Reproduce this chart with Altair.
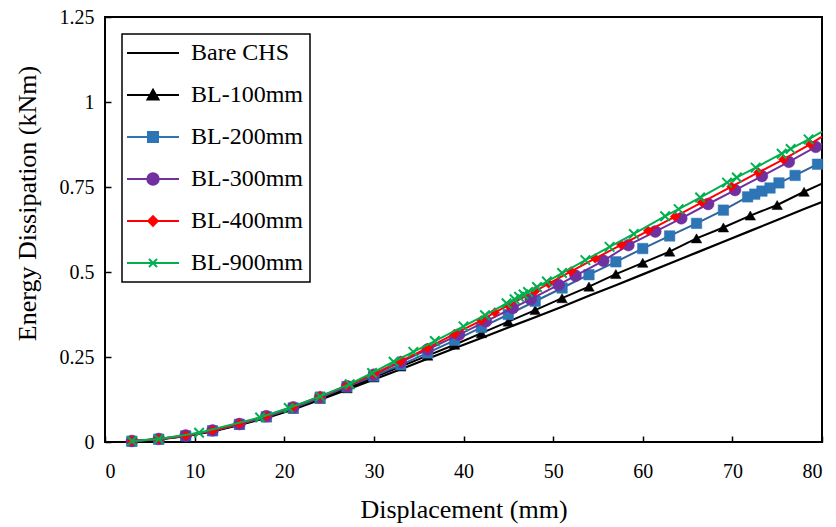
import altair as alt
import pandas as pd

# ---------------- data ----------------
series_names = ["Bare CHS", "BL-100mm", "BL-200mm", "BL-300mm", "BL-400mm", "BL-900mm"]

bare_x = [3, 6, 9, 12, 15, 18, 21, 24, 27, 30, 33, 36, 39, 42, 45, 48, 51, 54, 57, 60, 63, 66, 69, 72, 75, 78]
bare_y = [0.002, 0.008, 0.017, 0.031, 0.050, 0.071, 0.096, 0.124, 0.154, 0.184, 0.214, 0.245, 0.276,
          0.306, 0.337, 0.367, 0.398, 0.430, 0.461, 0.493, 0.525, 0.557, 0.589, 0.621, 0.653, 0.685]

bl100_x = [3, 6, 9, 12, 15, 18, 21, 24, 27, 30, 33, 36, 39, 42, 45, 48, 51, 54, 57, 60, 63, 66, 69, 72, 75, 78]
bl100_y = [0.002, 0.008, 0.018, 0.032, 0.051, 0.073, 0.098, 0.127, 0.158, 0.190, 0.222, 0.254, 0.286,
           0.320, 0.354, 0.388, 0.423, 0.457, 0.494, 0.527, 0.560, 0.599, 0.631, 0.666, 0.697, 0.736]

bl200_x = [3, 6, 9, 12, 15, 18, 21, 24, 27, 30, 33, 36, 39, 42, 45, 48, 51, 54, 57, 60, 63, 66, 69,
           71.7, 72.5, 73.3, 74.2, 75.2, 77, 79.5]
bl200_y = [0.002, 0.008, 0.018, 0.033, 0.052, 0.074, 0.100, 0.130, 0.163, 0.194, 0.227, 0.262, 0.299,
           0.337, 0.375, 0.414, 0.453, 0.492, 0.530, 0.569, 0.606, 0.643, 0.682,
           0.721, 0.729, 0.738, 0.747, 0.762, 0.784, 0.817]

bl300_x = [3, 6, 9, 12, 15, 18, 21, 24, 27, 30, 33, 36, 39.5, 42.5, 45.5, 47.5, 50.6, 52.5, 55.6,
           58.4, 61.4, 64.3, 67.3, 70.3, 73.3, 76.3, 79.3]
bl300_y = [0.003, 0.009, 0.019, 0.034, 0.053, 0.076, 0.102, 0.132, 0.164, 0.198, 0.235, 0.272, 0.316,
           0.355, 0.394, 0.420, 0.462, 0.489, 0.533, 0.579, 0.619, 0.658, 0.700, 0.741, 0.782, 0.824, 0.868]

bl400_x = [3, 6, 9, 12, 15, 18, 21, 24, 27, 30, 33, 36, 39, 42, 43.5, 45, 48, 49.5, 52, 54.7, 57.6,
           60.6, 63.6, 66.6, 69.9, 72.9, 75.7, 78.7]
bl400_y = [0.003, 0.009, 0.019, 0.034, 0.054, 0.077, 0.104, 0.134, 0.166, 0.200, 0.238, 0.277, 0.318,
           0.358, 0.381, 0.402, 0.444, 0.466, 0.502, 0.540, 0.580, 0.621, 0.663, 0.705, 0.751, 0.793,
           0.831, 0.876]

bl900_x = [3, 6, 10.5, 17.3, 20.5, 24, 27.3, 29.8, 32.2, 34.4, 36.8, 40, 42.4, 44.8, 45.7, 46.2, 46.7,
           47.2, 48.2, 49.3, 51, 53.6, 56.3, 59, 62.5, 64, 66.4, 69.4, 70.5, 72.6, 75.5, 76.5, 78.5]
bl900_y = [0.003, 0.009, 0.027, 0.072, 0.100, 0.134, 0.170, 0.203, 0.236, 0.265, 0.297, 0.340, 0.373,
           0.408, 0.420, 0.427, 0.434, 0.441, 0.456, 0.472, 0.497, 0.535, 0.574, 0.612, 0.664, 0.685,
           0.719, 0.763, 0.778, 0.807, 0.848, 0.862, 0.890]

# line end points at the right border (x = 80), no marker there
line_end_x = 80
line_end_y = [0.706, 0.760, 0.823, 0.877, 0.898, 0.913]

x_ticks = [0, 10, 20, 30, 40, 50, 60, 70, 80]
y_ticks = [0, 0.25, 0.5, 0.75, 1, 1.25]

# ---------------- styles ----------------
line_colors = ["#000000", "#000000", "#2F6399", "#7030A0", "#FF0000", "#00B050"]
marker_colors = ["#000000", "#000000", "#2E75B6", "#7030A0", "#FF0000", "#00B050"]
marker_shapes = [None, "triangle-up", "square", "circle", "diamond", "M-1,-1L1,1M-1,1L1,-1"]
marker_sizes = [0, 110, 110, 140, 95, 90]
legend_paths = [
    "M-5.2,0H5.2",
    "M-5.2,0H5.2M0,-1.05L1.1,0.9L-1.1,0.9Z",
    "M-5.2,0H5.2M-1,-1H1V1H-1Z",
    "M-5.2,0H5.2M-1.15,0A1.15,1.15,0,1,0,1.15,0A1.15,1.15,0,1,0,-1.15,0Z",
    "M-5.2,0H5.2M0,-0.95L0.95,0L0,0.95L-0.95,0Z",
    "M-5.2,0H5.2M-0.8,-0.8L0.8,0.8M-0.8,0.8L0.8,-0.8",
]

all_x = [bare_x, bl100_x, bl200_x, bl300_x, bl400_x, bl900_x]
all_y = [bare_y, bl100_y, bl200_y, bl300_y, bl400_y, bl900_y]

rows = []
for name, xs, ys, ye in zip(series_names, all_x, all_y, line_end_y):
    for xv, yv in zip(xs, ys):
        rows.append({"series": name, "disp": xv, "energy": yv, "marked": 1})
    rows.append({"series": name, "disp": line_end_x, "energy": ye, "marked": 0})
df = pd.DataFrame(rows)

W, H = 717, 425
FONT = "Liberation Serif"

xscale = alt.Scale(domain=[0, 80], nice=False, zero=False)
yscale = alt.Scale(domain=[0, 1.25], nice=False, zero=False)

base = alt.Chart(df)

# main axes (labels + titles)
axis_layer = base.mark_line(opacity=0).encode(
    x=alt.X("disp:Q", scale=xscale,
            axis=alt.Axis(orient="bottom", values=x_ticks, ticks=False, domain=False, grid=False,
                          labelPadding=19, labelFontSize=20, title="Displacement (mm)",
                          titleFontSize=26, titleFontWeight="normal", titlePadding=15)),
    y=alt.Y("energy:Q", scale=yscale,
            axis=alt.Axis(orient="left", values=y_ticks, format=".2~f", ticks=False, domain=False,
                          grid=False, labelPadding=11, labelFontSize=20,
                          title="Energy Dissipation (kNm)", titleFontSize=26,
                          titleFontWeight="normal", titlePadding=19, titleY=186)),
    detail="series:N",
)

# inward tick marks
tick_layer = base.mark_line(opacity=0).encode(
    x=alt.X("disp:Q", scale=xscale,
            axis=alt.Axis(orient="top", offset=-H, values=x_ticks, labels=False, ticks=True,
                          tickSize=6, tickWidth=1.5, tickColor="black", domain=False, grid=False,
                          title=None)),
    y=alt.Y("energy:Q", scale=yscale,
            axis=alt.Axis(orient="right", offset=-W, values=y_ticks, labels=False, ticks=True,
                          tickSize=6, tickWidth=1.5, tickColor="black", domain=False, grid=False,
                          title=None)),
    detail="series:N",
)

layers = [axis_layer, tick_layer]
for i, name in enumerate(series_names):
    sel = base.transform_filter(alt.FieldEqualPredicate(field="series", equal=name))
    line = sel.mark_line(color=line_colors[i], strokeWidth=2.2 if i == 0 else 2).encode(
        x=alt.X("disp:Q", scale=xscale, axis=None),
        y=alt.Y("energy:Q", scale=yscale, axis=None),
        order="disp:Q",
    )
    layers.append(line)
    if marker_shapes[i] is not None:
        pts = sel.transform_filter(alt.datum.marked == 1)
        if i == 5:
            mk = pts.mark_point(shape=marker_shapes[i], size=marker_sizes[i], filled=False,
                                stroke=marker_colors[i], strokeWidth=2, opacity=1)
        else:
            mk = pts.mark_point(shape=marker_shapes[i], size=marker_sizes[i], filled=True,
                                fill=marker_colors[i], stroke=marker_colors[i], strokeWidth=0.5,
                                opacity=1)
        layers.append(mk.encode(
            x=alt.X("disp:Q", scale=xscale, axis=None),
            y=alt.Y("energy:Q", scale=yscale, axis=None),
        ))

# legend (invisible points that only carry the legend)
legend_df = pd.DataFrame({"series": series_names})
leg = alt.Legend(title=None, orient="none", legendX=17, legendY=17, padding=7,
                 symbolOffset=12, labelOffset=26, rowPadding=18, symbolSize=100,
                 symbolStrokeWidth=2, symbolOpacity=1, labelFontSize=24, labelFont=FONT,
                 labelColor="black", strokeColor="black", fillColor="white")
legend_layer = alt.Chart(legend_df).mark_point(filled=True, opacity=0).encode(
    x=alt.value(0), y=alt.value(0),
    shape=alt.Shape("series:N", scale=alt.Scale(domain=series_names, range=legend_paths), legend=leg),
    fill=alt.Fill("series:N", scale=alt.Scale(domain=series_names, range=marker_colors), legend=leg),
    stroke=alt.Stroke("series:N", scale=alt.Scale(domain=series_names, range=marker_colors), legend=leg),
)
layers.append(legend_layer)

chart = alt.layer(*layers).resolve_scale(shape="independent", fill="independent",
                                         stroke="independent").properties(
    width=W, height=H,
    padding={"left": 105, "top": 17, "right": 14, "bottom": 85},
    autosize=alt.AutoSizeParams(type="none"),
    background="white",
).configure_view(stroke="black", strokeWidth=2).configure_axis(
    labelFont=FONT, titleFont=FONT, labelColor="black", titleColor="black",
).configure_legend(strokeWidth=1.5)

chart.save("out.html", embed_options={"renderer": "svg", "actions": False})
